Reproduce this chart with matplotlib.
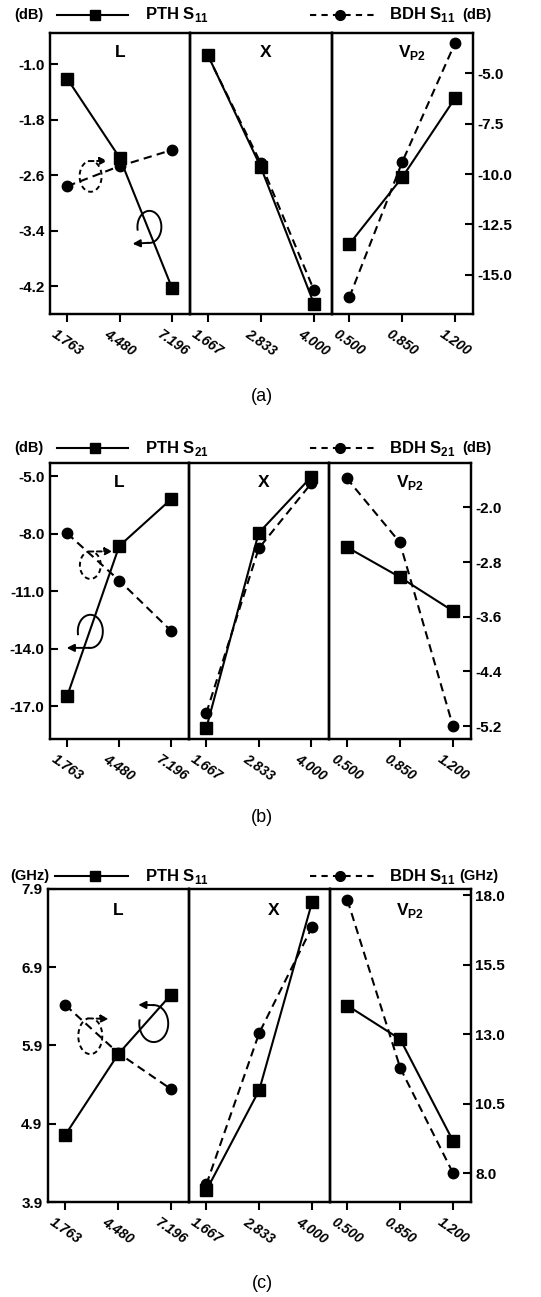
import numpy as np
import matplotlib
matplotlib.use("Agg")
import matplotlib.pyplot as plt
from matplotlib.lines import Line2D

plt.rcParams['font.family'] = ['Liberation Sans', 'DejaVu Sans']
plt.rcParams['font.weight'] = 'bold'
plt.rcParams['mathtext.fontset'] = 'custom'
plt.rcParams['mathtext.rm'] = 'Liberation Sans:bold'
plt.rcParams['mathtext.bf'] = 'Liberation Sans:bold'

W, H = 541, 1297

# factor levels (x axis of each sub panel)
x_L = [1.763, 4.480, 7.196]
x_X = [1.667, 2.833, 4.000]
x_V = [0.500, 0.850, 1.200]
xlab_L = ['1.763', '4.480', '7.196']
xlab_X = ['1.667', '2.833', '4.000']
xlab_V = ['0.500', '0.850', '1.200']
sub_names = ['L', 'X', r'V$_\mathbf{P2}$']

# (a) S11 in dB: PTH on left axis, BDH on right axis
a_pth_L = [-1.21, -2.35, -4.23]
a_pth_X = [-0.86, -2.48, -4.45]
a_pth_V = [-3.59, -2.63, -1.49]
a_bdh_L = [-10.6, -9.6, -8.8]
a_bdh_X = [-4.1, -9.45, -15.75]
a_bdh_V = [-16.1, -9.4, -3.5]
a_ticks_l = [-4.2, -3.4, -2.6, -1.8, -1.0]
a_ticks_r = [-15.0, -12.5, -10.0, -7.5, -5.0]

# (b) S21 in dB
b_pth_L = [-16.48, -8.65, -6.2]
b_pth_X = [-18.15, -7.97, -5.05]
b_pth_V = [-8.7, -10.27, -12.04]
b_bdh_L = [-2.38, -3.07, -3.81]
b_bdh_X = [-5.01, -2.6, -1.65]
b_bdh_V = [-1.57, -2.51, -5.2]
b_ticks_l = [-17.0, -14.0, -11.0, -8.0, -5.0]
b_ticks_r = [-5.2, -4.4, -3.6, -2.8, -2.0]

# (c) S11 resonance in GHz
c_pth_L = [4.76, 5.79, 6.55]
c_pth_X = [4.05, 5.33, 7.73]
c_pth_V = [6.41, 5.98, 4.68]
c_bdh_L = [14.04, 12.32, 11.02]
c_bdh_X = [7.6, 13.04, 16.85]
c_bdh_V = [17.82, 11.78, 8.0]
c_ticks_l = [3.9, 4.9, 5.9, 6.9, 7.9]
c_ticks_r = [8.0, 10.5, 13.0, 15.5, 18.0]

fig = plt.figure(figsize=(W / 100, H / 100), dpi=100)


def px_axes(x0, x1, y0, y1):
    return fig.add_axes([x0 / W, 1 - y1 / H, (x1 - x0) / W, (y1 - y0) / H])


def loop(ax, cx, cy, w, h, a0, a1, tip, ls):
    t = np.radians(np.linspace(a0, a1, 80))
    xs = cx + w / 2 * np.cos(t)
    ys = cy + h / 2 * np.sin(t)
    ax.plot(xs, ys, transform=ax.transAxes, color='k', lw=1.4, ls=ls, clip_on=False)
    ax.annotate('', xy=tip, xytext=(xs[-1], ys[-1]), xycoords='axes fraction',
                arrowprops=dict(arrowstyle='-|>', color='k', lw=1.4, ls=ls,
                                mutation_scale=11, shrinkA=0, shrinkB=0))


def legend_row(y, unit, sub, unit_x_l, unit_x_r, line_x0):
    yf = 1 - y / H
    fig.text(unit_x_l / W, yf, unit, fontsize=10.5, fontweight='bold', va='center', ha='left')
    fig.add_artist(Line2D([line_x0 / W, 128 / W], [yf, yf], transform=fig.transFigure, color='k', lw=1.5))
    fig.add_artist(Line2D([95 / W], [yf], transform=fig.transFigure, color='k', marker='s', ms=7.5))
    fig.text(145 / W, yf, r'PTH S$_\mathbf{%s}$' % sub, fontsize=12, fontweight='bold', va='center', ha='left')
    fig.add_artist(Line2D([310 / W, 378 / W], [yf, yf], transform=fig.transFigure, color='k', lw=1.5,
                          ls=(0, (3, 2.5))))
    fig.add_artist(Line2D([340 / W], [yf], transform=fig.transFigure, color='k', marker='o', ms=7))
    fig.text(389 / W, yf, r'BDH S$_\mathbf{%s}$' % sub, fontsize=12, fontweight='bold', va='center', ha='left')
    fig.text(unit_x_r / W, yf, unit, fontsize=10.5, fontweight='bold', va='center', ha='left')


def panel(edges, top, bottom, pth, bdh, lim_l, lim_r, ticks_l, ticks_r, name_x, loops):
    xs = [x_L, x_X, x_V]
    labs = [xlab_L, xlab_X, xlab_V]
    for i in range(3):
        ax = px_axes(edges[i], edges[i + 1], top, bottom)
        axr = ax.twinx()
        ax.set_zorder(axr.get_zorder() + 1)
        ax.patch.set_visible(False)
        x = xs[i]
        axr.plot(x, bdh[i], color='k', ls=(0, (4, 2.5)), lw=1.5, marker='o', ms=7.5)
        ax.plot(x, pth[i], color='k', ls='-', lw=1.5, marker='s', ms=8.5)
        step = (x[2] - x[0]) / 2
        ax.set_xlim(x[0] - 0.33 * step, x[2] + 0.34 * step)
        ax.set_xticks(x)
        ax.set_xticklabels(labs[i], rotation=-35, ha='center', fontstyle='italic',
                           fontweight='bold', fontsize=10)
        ax.set_ylim(lim_l)
        axr.set_ylim(lim_r)
        ax.tick_params(axis='x', direction='out', length=6, width=1.5, pad=3)
        ax.tick_params(axis='y', direction='in', length=6, width=1.5, pad=4, labelsize=11)
        axr.tick_params(axis='y', direction='in', length=6, width=1.5, pad=3, labelsize=11)
        if i == 0:
            ax.set_yticks(ticks_l)
            ax.set_yticklabels(['%.1f' % v for v in ticks_l], fontweight='bold')
        else:
            ax.set_yticks([])
        if i == 2:
            axr.set_yticks(ticks_r)
            axr.set_yticklabels(['%.1f' % v for v in ticks_r], fontweight='bold')
        else:
            axr.set_yticks([])
        for a in (ax, axr):
            for s in a.spines.values():
                s.set_linewidth(1.6)
        ax.text(name_x[i], 0.93, sub_names[i], transform=ax.transAxes, ha='center', va='center',
                fontsize=12.5, fontweight='bold')
        if i == 0:
            for lp in loops:
                loop(ax, *lp)


# (a)
legend_row(15, '(dB)', '11', 14, 462, 57)
panel([50, 190, 332, 473], 33, 314,
      [a_pth_L, a_pth_X, a_pth_V], [a_bdh_L, a_bdh_X, a_bdh_V],
      (-4.6, -0.55), (-16.94, -3.0), a_ticks_l, a_ticks_r, [0.5, 0.53, 0.57],
      [(0.29, 0.49, 0.157, 0.11, 60, -260, (0.41, 0.545), (0, (2.5, 1.8))),
       (0.71, 0.31, 0.171, 0.114, 190, -95, (0.59, 0.25), '-')])
fig.text(262 / W, 1 - 397 / H, '(a)', ha='center', va='center', fontsize=13, fontweight='normal')

# (b)
legend_row(448, '(dB)', '21', 14, 462, 57)
panel([50, 189, 329, 471], 463, 739,
      [b_pth_L, b_pth_X, b_pth_V], [b_bdh_L, b_bdh_X, b_bdh_V],
      (-18.72, -4.32), (-5.39, -1.35), b_ticks_l, b_ticks_r, [0.5, 0.53, 0.57],
      [(0.29, 0.63, 0.15, 0.10, 60, -260, (0.45, 0.68), (0, (2.5, 1.8))),
       (0.29, 0.39, 0.18, 0.12, 190, -95, (0.12, 0.33), '-')])
fig.text(262 / W, 1 - 817 / H, '(b)', ha='center', va='center', fontsize=13, fontweight='normal')

# (c)
legend_row(876, '(GHz)', '11', 10, 459, 55)
panel([48, 189, 330, 471], 889, 1202,
      [c_pth_L, c_pth_X, c_pth_V], [c_bdh_L, c_bdh_X, c_bdh_V],
      (3.9, 7.9), (6.96, 18.22), c_ticks_l, c_ticks_r, [0.5, 0.6, 0.57],
      [(0.30, 0.53, 0.17, 0.115, 60, -260, (0.43, 0.585), (0, (2.5, 1.8))),
       (0.75, 0.57, 0.205, 0.118, 170, 450, (0.64, 0.63), '-')])
fig.text(262 / W, 1 - 1283 / H, '(c)', ha='center', va='center', fontsize=13, fontweight='normal')

fig.savefig('out.png', dpi=100)
